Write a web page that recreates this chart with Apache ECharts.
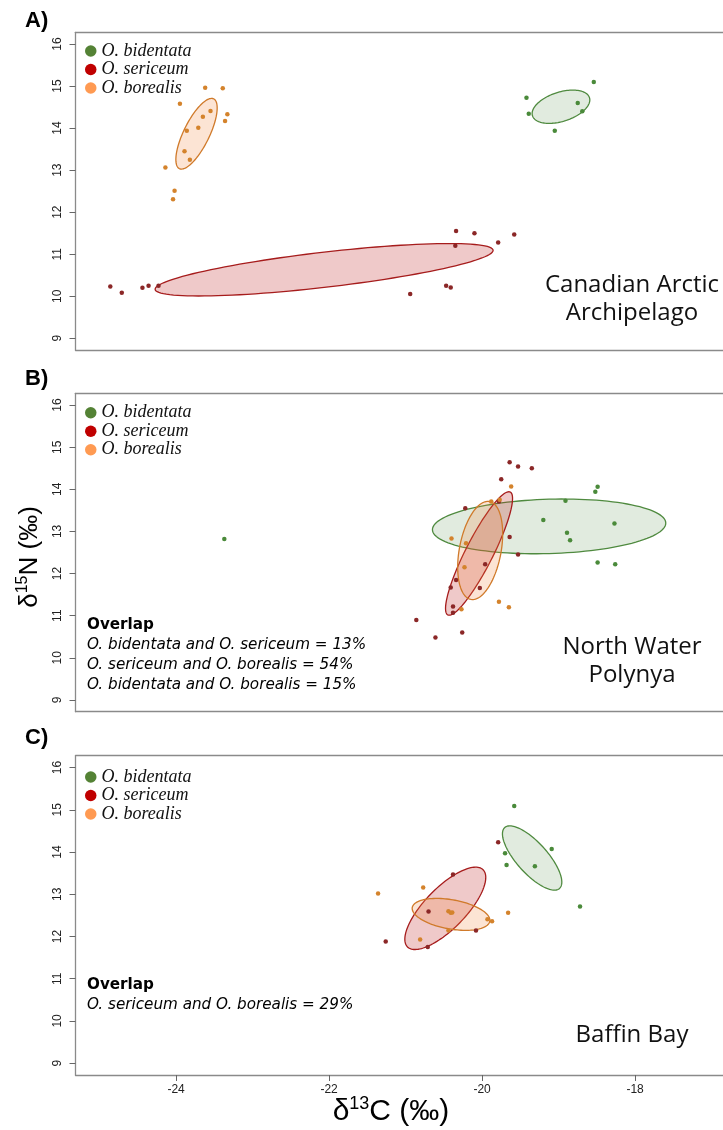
<!DOCTYPE html>
<html>
<head>
<meta charset="utf-8">
<script src="https://cdn.jsdelivr.net/npm/echarts@6/dist/echarts.min.js"></script>
<style>
  html, body { margin: 0; padding: 0; background: #fff; }
  #chart { width: 723px; height: 1130px; }
</style>
</head>
<body>
<div id="chart"></div>
<script>
// Species and tick labels
const speciesNames = ['O. bidentata', 'O. sericeum', 'O. borealis'];
const xTicks = [-24, -22, -20, -18];
const yTicks = [9, 10, 11, 12, 13, 14, 15, 16];
const panelLetters = ['A)', 'B)', 'C)'];
const regionNames = [['Canadian Arctic', 'Archipelago'], ['North Water', 'Polynya'], ['Baffin Bay']];

// Canadian Arctic Archipelago: [d13C, d15N]
const caaBidentata = [[-18.54, 15.10], [-19.42, 14.72], [-18.75, 14.60], [-18.69, 14.40], [-19.39, 14.34], [-19.05, 13.94]];
const caaSericeum = [[-24.86, 10.23], [-24.71, 10.08], [-24.44, 10.20], [-24.36, 10.25], [-24.23, 10.25],
  [-20.34, 11.55], [-20.10, 11.50], [-19.58, 11.47], [-19.79, 11.28], [-20.35, 11.20],
  [-20.47, 10.25], [-20.41, 10.21], [-20.94, 10.05]];
const caaBorealis = [[-23.62, 14.96], [-23.39, 14.95], [-23.95, 14.58], [-23.33, 14.33], [-23.36, 14.17],
  [-23.55, 14.41], [-23.65, 14.27], [-23.71, 14.01], [-23.86, 13.94], [-23.89, 13.45],
  [-23.82, 13.25], [-24.14, 13.06], [-24.02, 12.51], [-24.04, 12.31]];

// North Water Polynya
const nowBidentata = [[-23.37, 12.82], [-18.49, 14.06], [-18.52, 13.94], [-18.91, 13.73], [-19.20, 13.27],
  [-18.27, 13.19], [-18.89, 12.97], [-18.85, 12.79], [-18.49, 12.26], [-18.26, 12.22]];
const nowSericeum = [[-19.64, 14.64], [-19.53, 14.54], [-19.35, 14.50], [-19.75, 14.24], [-20.22, 13.55],
  [-19.78, 13.71], [-19.64, 12.87], [-19.53, 12.45], [-19.96, 12.22], [-20.34, 11.85],
  [-20.41, 11.67], [-20.03, 11.66], [-20.38, 11.22], [-20.38, 11.07], [-20.86, 10.90],
  [-20.26, 10.60], [-20.61, 10.48]];
const nowBorealis = [[-19.62, 14.07], [-19.88, 13.71], [-19.77, 13.75], [-20.40, 12.83], [-20.21, 12.72],
  [-20.23, 12.15], [-19.78, 11.33], [-19.65, 11.20], [-20.27, 11.15]];

// Baffin Bay
const bbBidentata = [[-19.58, 15.09], [-19.09, 14.07], [-19.70, 13.97], [-19.68, 13.69], [-19.31, 13.66], [-18.72, 12.71]];
const bbSericeum = [[-19.79, 14.23], [-20.38, 13.47], [-20.70, 12.59], [-20.08, 12.14], [-21.26, 11.88], [-20.71, 11.75]];
const bbBorealis = [[-21.36, 13.02], [-20.77, 13.16], [-20.44, 12.60], [-20.41, 12.56], [-20.39, 12.57],
  [-19.93, 12.41], [-19.87, 12.36], [-19.66, 12.56], [-20.44, 12.14], [-20.81, 11.93]];

// Standard ellipses: [centre d13C, centre d15N, half-range d13C, half-range d15N, correlation]
const caaEllipses = [[-18.969, 14.509, 0.377, 0.396, 0.41], [-22.065, 10.629, 2.209, 0.624, 0.74], [-23.733, 13.866, 0.27, 0.841, 0.73]];
const nowEllipses = [[-19.124, 13.12, 1.525, 0.650, 0.12], [-20.04, 12.477, 0.438, 1.466, 0.89], [-20.025, 12.548, 0.294, 1.166, 0.34]];
const bbEllipses = [[-19.346, 13.858, 0.388, 0.761, -0.75], [-20.481, 12.666, 0.529, 0.975, 0.75], [-20.406, 12.523, 0.508, 0.378, -0.37]];

// Overlap annotations
const nowOverlap = ['O. bidentata and O. sericeum = 13%', 'O. sericeum and O. borealis = 54%', 'O. bidentata and O. borealis = 15%'];
const bbOverlap = ['O. sericeum and O. borealis = 29%'];

const panels = [
  { points: [caaBidentata, caaSericeum, caaBorealis], ellipses: caaEllipses },
  { points: [nowBidentata, nowSericeum, nowBorealis], ellipses: nowEllipses },
  { points: [bbBidentata, bbSericeum, bbBorealis], ellipses: bbEllipses }
];

const legendColors = ['#548235', '#c00000', '#ff9a52'];
const pointColors = ['#4a8a3a', '#8b2727', '#d4832c'];
const strokeColors = ['#4f8a3f', '#a61c1c', '#d07a2a'];
const fillColors = ['rgba(79,138,63,0.17)', 'rgba(190,40,40,0.25)', 'rgba(240,130,60,0.22)'];
const frameColor = '#8a8a8a';

// The plot frame runs off the right edge of the page, so the x range ends at the page edge
const X_MIN = -25.315, X_MAX = -16.851;
const Y_MIN = 8.72, Y_MAX = 16.28;
const gridBoxes = [
  { left: 75.5, top: 32.3, width: 647.5, height: 317.7 },
  { left: 75.5, top: 393.3, width: 647.5, height: 318.4 },
  { left: 75.5, top: 755.7, width: 647.5, height: 319.3 }
];
const legendTops = [41.8, 403.5, 767.8];

const tickFont = { fontFamily: 'Liberation Sans', fontSize: 12, color: '#222' };
const frameLine = { show: true, onZero: false, lineStyle: { color: frameColor, width: 1.3 } };

const grid = gridBoxes.map(b => Object.assign({ show: false }, b));

// bottom axes (0..2) carry the data; top axes (3..5) only draw the upper frame edge
const xAxis = gridBoxes.map((b, i) => ({
  gridIndex: i, type: 'value', min: X_MIN, max: X_MAX, position: 'bottom',
  splitLine: { show: false },
  axisLine: frameLine,
  axisTick: { show: i === 2, length: 6, lineStyle: { color: '#666' }, customValues: xTicks },
  axisLabel: Object.assign({ show: i === 2, margin: 9, customValues: xTicks }, tickFont)
})).concat(gridBoxes.map((b, i) => ({
  gridIndex: i, type: 'value', min: X_MIN, max: X_MAX, position: 'top',
  splitLine: { show: false }, axisLine: frameLine,
  axisTick: { show: false }, axisLabel: { show: false }
})));

const yAxis = gridBoxes.map((b, i) => ({
  gridIndex: i, type: 'value', min: Y_MIN, max: Y_MAX,
  splitLine: { show: false },
  axisLine: frameLine,
  axisTick: { show: true, length: 6, lineStyle: { color: '#666' }, customValues: yTicks },
  axisLabel: Object.assign({ rotate: 90, margin: 12, customValues: yTicks }, tickFont)
}));

function ellipseItem(params, api) {
  const cx = api.value(0), cy = api.value(1), sx = api.value(2), sy = api.value(3), r = api.value(4);
  const k = Math.sqrt(1 - r * r);
  const pts = [];
  for (let j = 0; j < 120; j++) {
    const t = j / 120 * Math.PI * 2;
    pts.push(api.coord([cx + sx * Math.cos(t), cy + sy * (r * Math.cos(t) + k * Math.sin(t))]));
  }
  const idx = params.dataIndex;
  return {
    type: 'polygon',
    shape: { points: pts },
    style: { fill: fillColors[idx], stroke: strokeColors[idx], lineWidth: 1.3 }
  };
}

const series = [];
panels.forEach((p, i) => {
  series.push({
    type: 'custom', xAxisIndex: i, yAxisIndex: i, renderItem: ellipseItem,
    data: p.ellipses, silent: true, z: 1
  });
  p.points.forEach((pts, s) => {
    series.push({
      type: 'scatter', name: speciesNames[s], xAxisIndex: i, yAxisIndex: i,
      data: pts, symbol: 'circle', symbolSize: 4.5,
      itemStyle: { color: pointColors[s], opacity: 1 }, z: 3, silent: true
    });
  });
});

const legend = legendTops.map(t => ({
  left: 85, top: t, orient: 'vertical', itemGap: 0, padding: 0,
  itemWidth: 11.5, itemHeight: 11.5, icon: 'circle', selectedMode: false,
  textStyle: { fontFamily: 'Liberation Serif', fontStyle: 'italic', fontSize: 18, color: '#111', lineHeight: 18.5 },
  data: speciesNames.map((n, s) => ({ name: n, itemStyle: { color: legendColors[s], opacity: 1 } }))
}));

const graphic = [];
const letterY = [21, 379, 738];
panelLetters.forEach((l, i) => {
  graphic.push({ type: 'text', x: 25, y: letterY[i],
    style: { text: l, font: 'bold 22px "Liberation Sans"', fill: '#000', align: 'left', verticalAlign: 'middle' } });
});
const regionY = [[285, 313], [647, 675], [1035]];
regionNames.forEach((lines, i) => {
  lines.forEach((line, j) => {
    graphic.push({ type: 'text', x: 632, y: regionY[i][j],
      style: { text: line, font: '24px "Open Sans"', fill: '#111', align: 'center', verticalAlign: 'middle' } });
  });
});
function overlapBlock(top, lines) {
  graphic.push({ type: 'text', x: 87, y: top,
    style: { text: 'Overlap', font: 'bold 15.2px "DejaVu Sans"', fill: '#000', align: 'left', verticalAlign: 'middle' } });
  lines.forEach((line, j) => {
    graphic.push({ type: 'text', x: 87, y: top + 20 * (j + 1),
      style: { text: line, font: 'italic 15.2px "DejaVu Sans"', fill: '#000', align: 'left', verticalAlign: 'middle' } });
  });
}
overlapBlock(625, nowOverlap);
overlapBlock(985, bbOverlap);

// Axis titles
graphic.push({ type: 'text', x: 30, y: 557, rotation: Math.PI / 2,
  style: { text: '{a|δ}{b|15}{a|N (‰)}', align: 'center', verticalAlign: 'middle', fill: '#000',
    rich: { a: { fontFamily: 'Liberation Sans', fontSize: 26, lineHeight: 30 }, b: { fontFamily: 'Liberation Sans', fontSize: 16, verticalAlign: 'top' } } } });
graphic.push({ type: 'text', x: 391, y: 1112,
  style: { text: '{a|δ}{b|13}{a|C (‰)}', align: 'center', verticalAlign: 'middle', fill: '#000',
    rich: { a: { fontFamily: 'Liberation Sans', fontSize: 30, lineHeight: 34 }, b: { fontFamily: 'Liberation Sans', fontSize: 18, verticalAlign: 'top' } } } });

const chart = echarts.init(document.getElementById('chart'), null, { renderer: 'canvas' });
chart.setOption({ animation: false, grid, xAxis, yAxis, series, legend, graphic });
</script>
</body>
</html>
